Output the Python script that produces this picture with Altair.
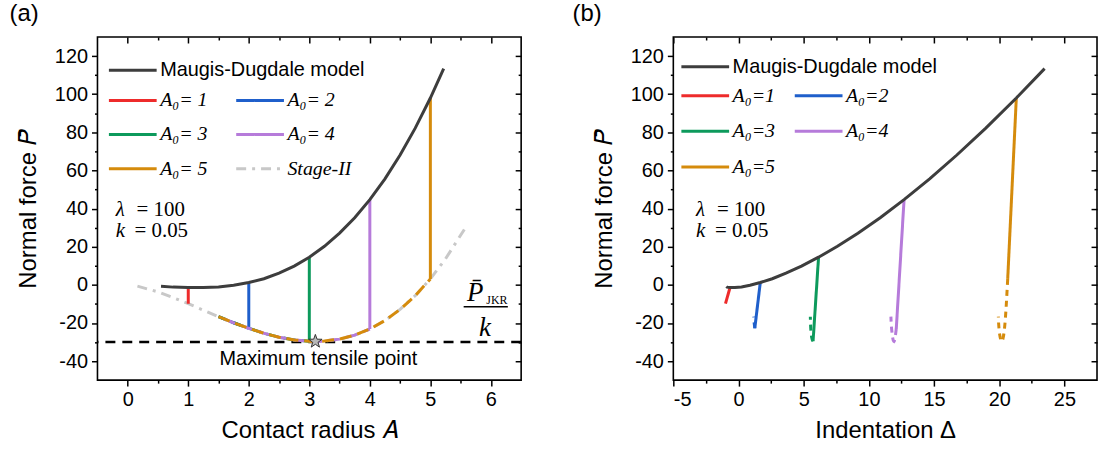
import altair as alt
import pandas as pd

# ---------------- data ----------------
# Maugis-Dugdale model curve: contact radius A, normal force P, indentation Delta
md_A = [0.55, 0.75, 1.0, 1.25, 1.5, 1.75, 2.0, 2.25, 2.5, 2.75, 3.0, 3.25, 3.5, 3.75, 4.0, 4.25, 4.5, 4.75, 5.0, 5.22]
md_P = [-0.8, -1.2, -1.4, -1.4, -1.1, -0.2, 1.2, 3.2, 6.1, 9.8, 14.5, 20.2, 27.1, 35.2, 44.7, 55.6, 68.1, 82.2, 98.0, 113.4]
md_D = [-0.92, -0.87, -0.65, -0.28, 0.23, 0.88, 1.67, 2.59, 3.64, 4.83, 6.14, 7.59, 9.16, 10.87, 12.7, 14.66, 16.75, 18.97, 21.31, 23.48]

# Stage-II (lower) curve in panel (a)
s2_A = [0.16, 0.5, 0.75, 1.0, 1.25, 1.5, 1.75, 2.0, 2.25, 2.5, 2.75, 3.0, 3.1, 3.25, 3.5, 3.75, 4.0, 4.25, 4.5, 4.75, 5.0, 5.25, 5.58]
s2_P = [-0.7, -3.7, -6.7, -9.9, -13.3, -16.7, -19.9, -22.8, -25.4, -27.5, -28.9, -29.6, -29.7, -29.5, -28.5, -26.4, -23.2, -18.7, -12.9, -5.7, 3.1, 13.6, 30.0]

# Initial contact radii and the jumps
a0_values = [1, 2, 3, 4, 5]
a0_top_P = [-1.4, 1.2, 14.5, 44.7, 98.0]
a0_bottom_P = [-9.9, -22.8, -29.6, -23.2, 3.1]
a0_top_D = [-0.65, 1.67, 6.14, 12.7, 21.31]
a0_bottom_D = [-1.0, 1.25, 5.72, 12.1, 20.65]

# Indentation along the Stage-II unloading path in panel (b), per A0 (2..5)
unload_D_2 = [1.25, 1.2, 1.17]
unload_D_3 = [5.72, 5.66, 5.61, 5.57, 5.54, 5.52, 5.51]
unload_D_4 = [12.1, 12.04, 11.99, 11.95, 11.93, 11.91, 11.86, 11.82, 11.78, 11.74, 11.71, 11.69]
unload_D_5 = [20.65, 20.58, 20.52, 20.46, 20.40, 20.34, 20.28, 20.22, 20.19, 20.16, 20.12, 20.07, 20.02, 19.98, 19.95, 19.93]

star_A = [3.1]
star_P = [-29.7]
jkr_P = [-30]

labels_a = ["A₀= 1", "A₀= 2", "A₀= 3", "A₀= 4", "A₀= 5"]
labels_b = ["A₀=1", "A₀=2", "A₀=3", "A₀=4", "A₀=5"]
series_colors = ["#ee2b2b", "#1f5fcb", "#0d9a5c", "#b67bda", "#d58b0c"]
stage_color = "#c8c8c8"
md_color = "#3d3d3d"

STAR = ("M0,-1L0.235,-0.324L0.951,-0.309L0.38,0.124L0.588,0.809L0,0.4L-0.588,0.809"
        "L-0.38,0.124L-0.951,-0.309L-0.235,-0.324Z")
LEG_SYMBOL = "M-2.4,0H2.4"

# ---------------- scales ----------------
XA = alt.Scale(domain=[-0.5, 6.5], nice=False, zero=False)
XB = alt.Scale(domain=[-5, 27.5], nice=False, zero=False)
YS = alt.Scale(domain=[-50, 130], nice=False, zero=False)

Y_MAJOR = [-40, -20, 0, 20, 40, 60, 80, 100, 120]
Y_MINOR = [-30, -10, 10, 30, 50, 70, 90, 110]


def ax(orient, values, size, labels, title=None, offset=0, tpad=14):
    kw = dict(orient=orient, values=values, tickSize=size, labels=labels, title=title,
              domain=False, grid=False, ticks=True, offset=offset, titlePadding=tpad)
    if labels:
        kw["labelExpr"] = "'' + datum.value"
    return alt.Axis(**kw)


def frame_axes(xscale, xmajor, xminor, xtitle, ytitle):
    d = pd.DataFrame({"x": [xmajor[0]], "y": [Y_MAJOR[0]]})
    base = alt.Chart(d).mark_point(opacity=0)
    l1 = base.encode(x=alt.X("x:Q", scale=xscale, axis=ax("bottom", xmajor, 6, True, xtitle, tpad=9)),
                     y=alt.Y("y:Q", scale=YS, axis=ax("left", Y_MAJOR, 6, True, ytitle, tpad=14)))
    l2 = base.encode(x=alt.X("x:Q", scale=xscale, axis=ax("bottom", xminor, 3, False)),
                     y=alt.Y("y:Q", scale=YS, axis=ax("left", Y_MINOR, 3, False)))
    l3 = base.encode(x=alt.X("x:Q", scale=xscale, axis=ax("top", xmajor, 6, False, offset=-6)),
                     y=alt.Y("y:Q", scale=YS, axis=ax("right", Y_MAJOR, 6, False, offset=-6)))
    l4 = base.encode(x=alt.X("x:Q", scale=xscale, axis=ax("top", xminor, 3, False, offset=-3)),
                     y=alt.Y("y:Q", scale=YS, axis=ax("right", Y_MINOR, 3, False, offset=-3)))
    return [l1, l2, l3, l4]


def enc(xscale):
    return dict(x=alt.X("x:Q", scale=xscale, axis=None), y=alt.Y("y:Q", scale=YS, axis=None))


def text_layer(xscale, x, y, t, font, size, align="left", style="normal", dx=0):
    d = pd.DataFrame({"x": [x], "y": [y], "t": [t]})
    return alt.Chart(d).mark_text(font=font, fontSize=size, align=align, baseline="middle",
                                  fontStyle=style, color="black", dx=dx).encode(text="t:N", **enc(xscale))


def param_texts(xscale, x):
    return [
        text_layer(xscale, x, 39, "λ", "Liberation Serif", 21, style="italic"),
        text_layer(xscale, x, 39, "= 100", "Liberation Serif", 21, dx=21),
        text_layer(xscale, x, 28, "k", "Liberation Serif", 21, style="italic"),
        text_layer(xscale, x, 28, "= 0.05", "Liberation Serif", 21, dx=19),
    ]


def md_legend(lx, ly):
    return alt.Legend(orient="none", legendX=lx, legendY=ly, title=None, symbolType=LEG_SYMBOL,
                      symbolSize=400, symbolStrokeWidth=3, labelFont="Liberation Sans", labelFontSize=20,
                      labelOffset=16, labelColor="black", padding=0, labelLimit=400)


def a0_legend(lx, ly, colpad, rowpad):
    return alt.Legend(orient="none", legendX=lx, legendY=ly, title=None, symbolType=LEG_SYMBOL,
                      symbolSize=400, symbolStrokeWidth=3, labelFont="Liberation Serif", labelFontSize=20,
                      labelFontStyle="italic", labelOffset=16, labelColor="black", padding=0, labelLimit=400,
                      direction="horizontal", columns=2, columnPadding=colpad, rowPadding=rowpad)


# ---------------- panel (a) ----------------
rows = []
for i, x in enumerate(s2_A):
    rows.append({"x": x, "y": s2_P[i], "series": "Stage-II", "seg": "s2", "i": i})
for k, lab, tp, bp in zip(a0_values, labels_a, a0_top_P, a0_bottom_P):
    rows.append({"x": k, "y": tp, "series": lab, "seg": f"v{k}", "i": 0})
    rows.append({"x": k, "y": bp, "series": lab, "seg": f"v{k}", "i": 1})
df_a = pd.DataFrame(rows)

leg_a = a0_legend(24, 52, 22, 12.5)
a0_layer_a = alt.Chart(df_a).mark_line(strokeWidth=3).encode(
    color=alt.Color("series:N", scale=alt.Scale(domain=labels_a + ["Stage-II"],
                                                range=series_colors + [stage_color]), legend=leg_a),
    strokeDash=alt.StrokeDash("series:N", scale=alt.Scale(domain=labels_a + ["Stage-II"],
                                                          range=[[1, 0]] * 5 + [[10, 6, 3, 6]]), legend=leg_a),
    detail="seg:N", order="i:Q", **enc(XA))

dash_layers_a = []
offsets = {2: 6, 3: 3, 4: 12, 5: 0}
for k in [2, 3, 4, 5]:
    pts = [(a, p) for a, p in zip(s2_A, s2_P) if 1.5 <= a <= k]
    d = pd.DataFrame({"x": [p[0] for p in pts], "y": [p[1] for p in pts], "i": list(range(len(pts)))})
    dash_layers_a.append(alt.Chart(d).mark_line(strokeWidth=3, strokeDash=[12, 6], strokeDashOffset=offsets[k],
                                                color=series_colors[k - 1]).encode(order="i:Q", **enc(XA)))

md_a = alt.Chart(pd.DataFrame({"x": md_A, "y": md_P, "s": "Maugis-Dugdale model"})).mark_line(strokeWidth=3).encode(
    color=alt.Color("s:N", scale=alt.Scale(domain=["Maugis-Dugdale model"], range=[md_color]),
                    legend=md_legend(24, 22)), **enc(XA))

rule_a = alt.Chart(pd.DataFrame({"y": jkr_P})).mark_rule(strokeDash=[10, 7], strokeWidth=2.5, color="black").encode(
    y=alt.Y("y:Q", scale=YS, axis=None))

star_a = alt.Chart(pd.DataFrame({"x": star_A, "y": star_P})).mark_point(
    shape=STAR, size=200, filled=True, fill="#b8b8b8", stroke="#333333", strokeWidth=1, opacity=1).encode(**enc(XA))

bar_a = alt.Chart(pd.DataFrame({"x": [5.55], "x2": [6.28], "y": [-11.5]})).mark_rule(
    strokeWidth=1.5, color="black").encode(x=alt.X("x:Q", scale=XA, axis=None), x2="x2:Q",
                                           y=alt.Y("y:Q", scale=YS, axis=None))

texts_a = param_texts(XA, -0.2) + [
    text_layer(XA, 3.15, -39, "Maximum tensile point", "Liberation Sans", 20, align="center"),
    text_layer(XA, 5.74, -4.2, "P̄", "Liberation Serif", 27, align="center", style="italic"),
    text_layer(XA, 6.1, -7.9, "JKR", "Liberation Serif", 12, align="center"),
    text_layer(XA, 5.9, -22.5, "k", "Liberation Serif", 27, align="center", style="italic"),
]

panel_a = alt.layer(
    *frame_axes(XA, [0, 1, 2, 3, 4, 5, 6], [0.5, 1.5, 2.5, 3.5, 4.5, 5.5], "Contact radius 𝐴", "Normal force 𝑃̄"),
    rule_a, a0_layer_a, *dash_layers_a, md_a, star_a, bar_a, *texts_a
).resolve_axis(x="independent", y="independent").resolve_scale(
    color="independent", strokeDash="independent"
).properties(width=426, height=345,
             title=alt.TitleParams("(a)", anchor="start", fontSize=24, font="Liberation Sans",
                                   fontWeight="normal", offset=10, dx=-7, color="black"))

# ---------------- panel (b) ----------------
rows = []
for k, lab, td, tp, bd, bp in zip(a0_values, labels_b, a0_top_D, a0_top_P, a0_bottom_D, a0_bottom_P):
    rows.append({"x": td, "y": tp, "series": lab, "seg": f"v{k}", "i": 0})
    rows.append({"x": bd, "y": bp, "series": lab, "seg": f"v{k}", "i": 1})
df_b = pd.DataFrame(rows)

a0_layer_b = alt.Chart(df_b).mark_line(strokeWidth=3).encode(
    color=alt.Color("series:N", scale=alt.Scale(domain=labels_b, range=series_colors),
                    legend=a0_legend(20.6, 47.2, 13, 14)),
    detail="seg:N", order="i:Q", **enc(XB))

dash_layers_b = []
for k, dvals in zip([2, 3, 4, 5], [unload_D_2, unload_D_3, unload_D_4, unload_D_5]):
    pvals = [p for a, p in zip(s2_A, s2_P) if 1.5 <= a <= k][::-1]
    d = pd.DataFrame({"x": dvals, "y": pvals, "i": list(range(len(dvals)))})
    dash_layers_b.append(alt.Chart(d).mark_line(strokeWidth=3, strokeDash=[6, 5],
                                                color=series_colors[k - 1]).encode(order="i:Q", **enc(XB)))

md_b = alt.Chart(pd.DataFrame({"x": md_D, "y": md_P, "s": "Maugis-Dugdale model"})).mark_line(strokeWidth=3).encode(
    color=alt.Color("s:N", scale=alt.Scale(domain=["Maugis-Dugdale model"], range=[md_color]),
                    legend=md_legend(20.6, 18.3)), **enc(XB))

texts_b = param_texts(XB, -3.26)

panel_b = alt.layer(
    *frame_axes(XB, [-5, 0, 5, 10, 15, 20, 25], [-2.5, 2.5, 7.5, 12.5, 17.5, 22.5], "Indentation Δ", "Normal force 𝑃̄"),
    a0_layer_b, *dash_layers_b, md_b, *texts_b
).resolve_axis(x="independent", y="independent").resolve_scale(color="independent").properties(
    width=426, height=345,
    title=alt.TitleParams("(b)", anchor="start", fontSize=24, font="Liberation Sans",
                          fontWeight="normal", offset=10, dx=-20, color="black"))

chart = alt.hconcat(panel_a, panel_b, spacing=47).properties(
    padding={"left": 8, "top": 0, "right": 0, "bottom": 0}
).configure_view(stroke="black", strokeWidth=1.6).configure_axis(
    labelFont="Liberation Sans", labelFontSize=20, labelColor="black", titleFont="Liberation Sans",
    titleFontSize=24, titleFontWeight="normal", titleColor="black", tickColor="black", tickWidth=1.5,
    labelPadding=4, grid=False
)

chart.save("out.html", embed_options={"renderer": "svg", "actions": False})
